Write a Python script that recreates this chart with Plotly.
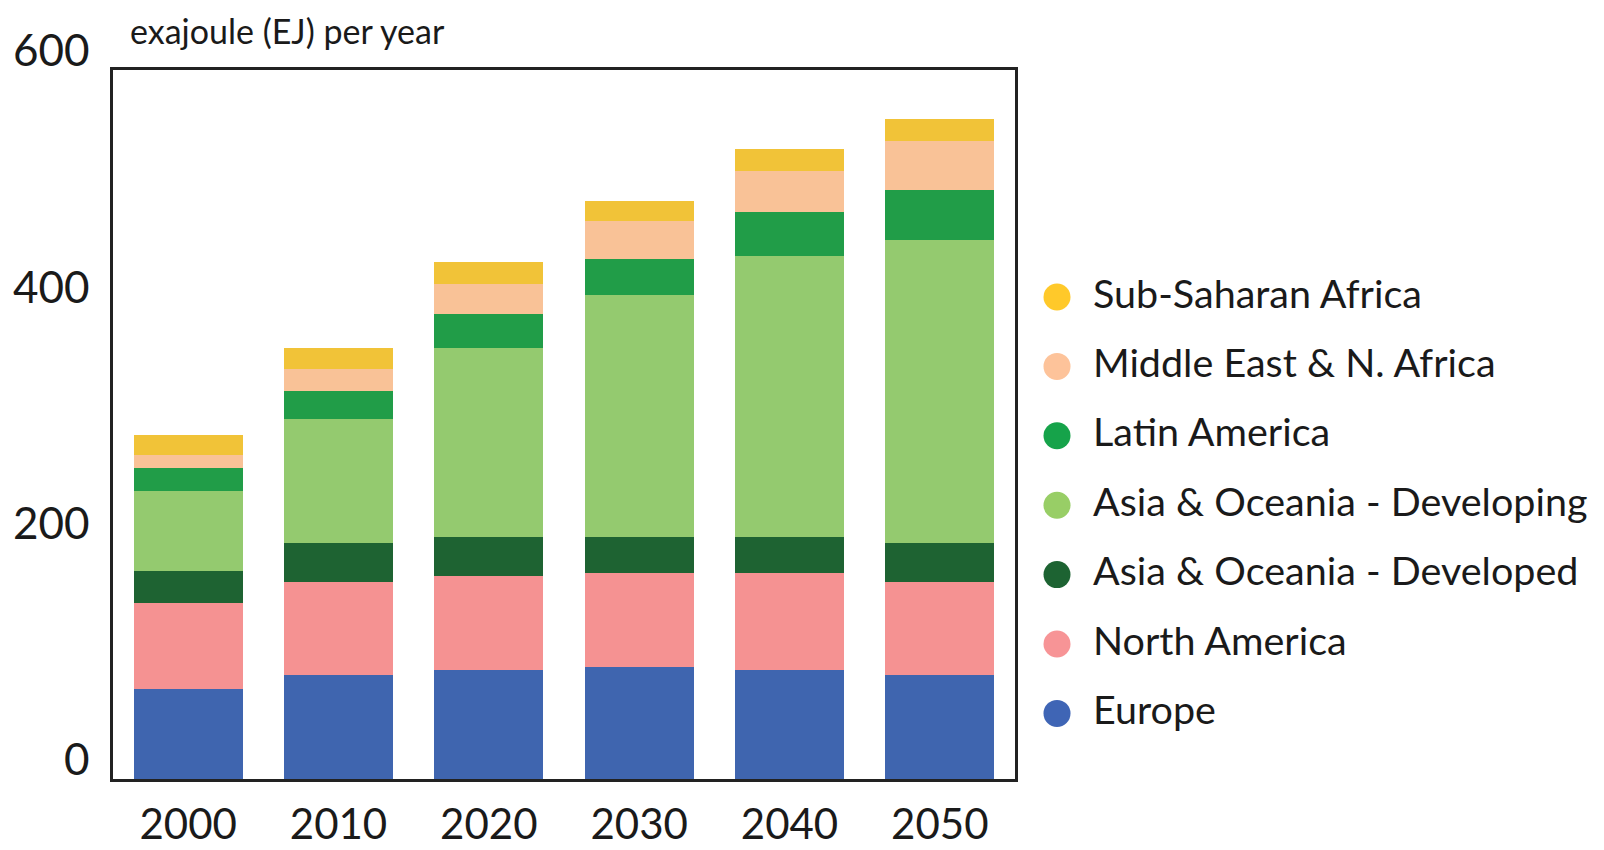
import plotly.graph_objects as go

years = ["2000", "2010", "2020", "2030", "2040", "2050"]

europe = [76.2, 87.8, 92.5, 95.0, 92.5, 87.8]
north_america = [72.5, 79.2, 79.0, 79.1, 81.6, 79.2]
asia_developed = [27.6, 32.5, 33.0, 30.4, 30.4, 32.5]
asia_developing = [67.7, 105.0, 160.5, 205.4, 237.8, 256.6]
latin_america = [18.9, 23.6, 28.3, 30.2, 37.3, 42.4]
mena = [11.3, 18.6, 25.3, 32.4, 34.9, 41.4]
ssa = [16.9, 18.3, 18.7, 16.6, 18.6, 18.6]

series_names = [
    "Europe",
    "North America",
    "Asia & Oceania - Developed",
    "Asia & Oceania - Developing",
    "Latin America",
    "Middle East & N. Africa",
    "Sub-Saharan Africa",
]
series_values = [europe, north_america, asia_developed, asia_developing,
                 latin_america, mena, ssa]
bar_colors = ["#3F65AF", "#F59292", "#1E6332", "#94CA6F", "#219D48", "#F9C297", "#F1C338"]
legend_colors = ["#3F65B5", "#F79496", "#1D6332", "#98CE66", "#16A34A", "#FDC39A", "#FFC92A"]

y_ticks = [0, 200, 400, 600]
y_title = "exajoule (EJ) per year"

FONT = "Lato"
TXT = "#1a1a1a"

# page body has an 8px default margin: place everything 8px up/left
OFF = 8
# plot area in (page) pixels
L, R, T, B = 113 - OFF, 1015 - OFF, 70 - OFF, 779 - OFF
W, H = R - L, B - T

fig = go.Figure()
for name, vals, col in zip(series_names, series_values, bar_colors):
    fig.add_trace(go.Bar(
        x=years, y=vals, name=name, marker=dict(color=col, line=dict(width=0)),
        showlegend=False,
    ))

shapes = []
annotations = [dict(
    text=y_title, xref="paper", yref="paper",
    x=(128 - OFF - L) / W, y=1 + (T - (30 - OFF)) / H,
    xanchor="left", yanchor="middle", showarrow=False,
    font=dict(family=FONT, size=34, color=TXT),
)]
# legend (top item = last series)
order = list(range(len(series_names)))[::-1]
for k, i in enumerate(order):
    yc = 297 - OFF + k * 69.4
    yp = (B - yc) / H
    shapes.append(dict(
        type="circle", xref="paper", yref="paper",
        xsizemode="pixel", ysizemode="pixel",
        xanchor=(1057 - OFF - L) / W, yanchor=yp,
        x0=-13.5, x1=13.5, y0=-13.5, y1=13.5,
        fillcolor=legend_colors[i], line=dict(width=0),
    ))
    annotations.append(dict(
        text=series_names[i], xref="paper", yref="paper",
        x=(1091 - OFF - L) / W, y=yp + 5 / H, xanchor="left", yanchor="middle",
        showarrow=False, font=dict(family=FONT, size=39.5, color=TXT),
    ))

fig.update_layout(
    width=1604, height=850,
    barmode="stack", bargap=0.275,
    paper_bgcolor="white", plot_bgcolor="white",
    margin=dict(l=L, r=1604 - R, t=T, b=850 - B, autoexpand=False),
    font=dict(family=FONT, color=TXT),
    showlegend=False,
    xaxis=dict(
        type="category", categoryorder="array", categoryarray=years,
        showline=True, mirror=True, linecolor="#222", linewidth=2.5,
        showgrid=False, ticks="", ticklabelstandoff=7, automargin=False,
        tickfont=dict(family=FONT, size=42, color=TXT),
    ),
    yaxis=dict(
        range=[0, 600], tickvals=y_ticks, ticktext=[str(v) for v in y_ticks],
        showline=True, mirror=True, linecolor="#222", linewidth=2.5,
        showgrid=False, zeroline=False, ticks="", ticklabelstandoff=12,
        ticklabelshift=-19, automargin=False,
        tickfont=dict(family=FONT, size=44, color=TXT),
    ),
    shapes=shapes,
    annotations=annotations,
)

fig.write_html("out.html")
